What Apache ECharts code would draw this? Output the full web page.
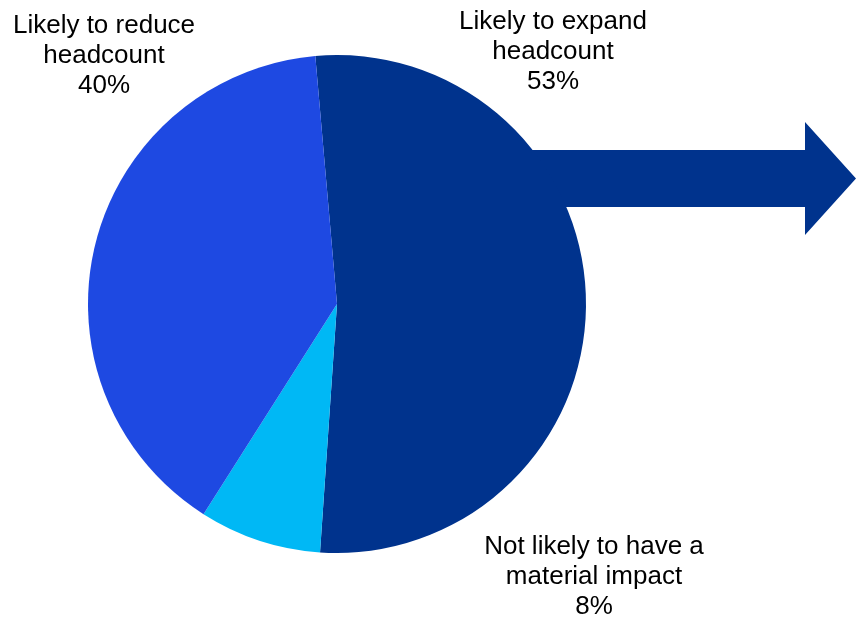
<!DOCTYPE html>
<html>
<head>
<meta charset="utf-8">
<script src="https://cdn.jsdelivr.net/npm/echarts@6/dist/echarts.min.js"></script>
<style>html,body{margin:0;padding:0;background:#fff}#c{width:856px;height:618px}</style>
</head>
<body>
<div id="c"></div>
<script>
const categories = ["Likely to expand\nheadcount", "Not likely to have a\nmaterial impact", "Likely to reduce\nheadcount"];
const values = [53, 8, 40];
const colors = ["#00338D", "#00B8F5", "#1E49E2"];
const labelPos = [[553, 52], [594, 577], [104, 56]];

const chart = echarts.init(document.getElementById('c'), null, {renderer: 'canvas'});
chart.setOption({
  animation: false,
  backgroundColor: '#ffffff',
  graphic: [{
    type: 'polygon',
    z: 1,
    shape: {points: [[520, 150], [805, 150], [805, 122], [856, 178.5], [805, 235], [805, 207], [520, 207]]},
    style: {fill: '#00338D'}
  }],
  series: [{
    type: 'pie',
    z: 2,
    center: [337, 304],
    radius: [0, 249],
    startAngle: 95,
    clockwise: true,
    avoidLabelOverlap: false,
    data: categories.map((n, i) => ({name: n, value: values[i], itemStyle: {color: colors[i]}})),
    itemStyle: {borderWidth: 0},
    label: {
      show: true,
      position: 'outside',
      formatter: p => p.name + '\n' + p.value + '%',
      fontFamily: 'Liberation Sans, Arial, sans-serif',
      fontSize: 26,
      lineHeight: 30,
      color: '#000',
      align: 'center'
    },
    labelLine: {show: false},
    labelLayout: p => ({x: labelPos[p.dataIndex][0], y: labelPos[p.dataIndex][1], align: 'center', verticalAlign: 'middle'}),
    emphasis: {disabled: true}
  }]
});
</script>
</body>
</html>
